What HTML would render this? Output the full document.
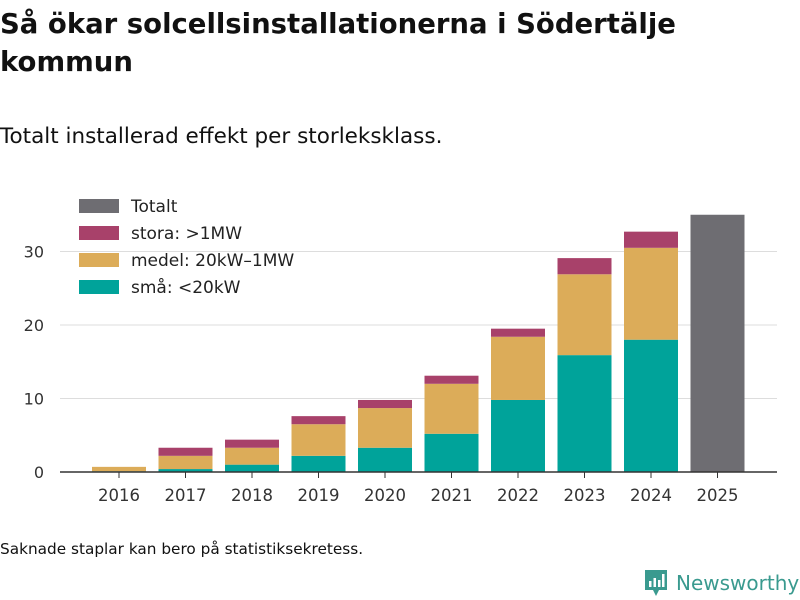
<!DOCTYPE html>
<html><head><meta charset="utf-8"><style>
body{margin:0;width:800px;height:600px;background:#fff;font-family:"DejaVu Sans","Liberation Sans",sans-serif;overflow:hidden;position:relative}
h1{position:absolute;left:0;top:5px;margin:0;font-size:27.5px;line-height:38px;font-weight:bold;color:#111;width:790px}
.sub{position:absolute;left:0;top:124px;font-size:21.5px;color:#111}
.note{position:absolute;left:0;top:540px;font-size:15.3px;color:#111}
.logo{position:absolute;left:644px;top:568px;display:flex;align-items:center;gap:8px;color:#3a9a8f;font-size:20px}
</style></head><body>
<h1>Så ökar solcellsinstallationerna i Södertälje kommun</h1>
<div class="sub">Totalt installerad effekt per storleksklass.</div>
<svg id="chart" width="800" height="600" style="position:absolute;left:0;top:0"></svg>
<div class="note">Saknade staplar kan bero på statistiksekretess.</div>
<div class="logo">
<svg width="24" height="30" viewBox="0 0 24 30"><path d="M1 2h22v20h-8l-3 6-3-6H1z" fill="#3a9a8f"/><rect x="5" y="13" width="2.5" height="6" fill="#fff"/><rect x="9.5" y="10" width="2.5" height="9" fill="#fff"/><rect x="14" y="12" width="2.5" height="7" fill="#fff"/><rect x="18" y="6" width="2.5" height="13" fill="#fff"/></svg>
<span style="font-weight:500">Newsworthy</span></div>
<script>
const years=["2016","2017","2018","2019","2020","2021","2022","2023","2024","2025"];
const sma=[0.1,0.4,1.0,2.2,3.3,5.2,9.8,15.9,18.0,0];
const medel=[0.6,1.8,2.3,4.3,5.4,6.8,8.6,11.0,12.5,0];
const stora=[0,1.1,1.1,1.1,1.1,1.1,1.1,2.2,2.2,0];
const totalt=[0,0,0,0,0,0,0,0,0,35.0];
const yTicks=[0,10,20,30];
const NS="http://www.w3.org/2000/svg";
const svg=document.getElementById('chart');
const x0=60,x1=777,yBase=472,pxPer=7.35,step=66.5,bw=54,firstC=119;
const y=v=>yBase-v*pxPer;
const xc=i=>firstC+i*step;
function mk(t,a){const e=document.createElementNS(NS,t);for(const k in a)e.setAttribute(k,a[k]);svg.appendChild(e);return e;}
yTicks.forEach(t=>{
 if(t>0){const l=mk('line',{x1:x0,x2:x1,y1:y(t),y2:y(t),stroke:'#ddd','stroke-width':1});
 
 }
 const tx=mk('text',{x:44,y:y(t)+6,'text-anchor':'end','font-size':16,fill:'#333','font-family':'DejaVu Sans, sans-serif'});
 tx.textContent=t;
 
 
});
const series=[[sma,'#00a39a','sma'],[medel,'#dcac59','medel'],[stora,'#a8416a','stora'],[totalt,'#6e6d72','totalt']];
years.forEach((yr,i)=>{
 let acc=0;
 series.forEach(([arr,col,nm])=>{
  const v=arr[i]; if(v<=0)return;
  const r=mk('rect',{x:xc(i)-bw/2,y:y(acc+v),width:bw,height:v*pxPer,fill:col});
  
  
  acc+=v;
 });
 const tk=mk('line',{x1:xc(i),x2:xc(i),y1:yBase,y2:yBase+6,stroke:'#333'});
 
 
 const t=mk('text',{x:xc(i),y:yBase+29,'text-anchor':'middle','font-size':16.5,fill:'#333','font-family':'DejaVu Sans, sans-serif'});
 t.textContent=yr;
 
 
});
const ax=mk('line',{x1:x0,x2:x1,y1:yBase,y2:yBase,stroke:'#333','stroke-width':1.5});


const leg=[['Totalt','#6e6d72'],['stora: >1MW','#a8416a'],['medel: 20kW–1MW','#dcac59'],['små: <20kW','#00a39a']];
leg.forEach(([lab,col],i)=>{
 const yy=206+i*27;
 const r=mk('rect',{x:79,y:yy-7,width:40,height:14,fill:col});
 
 
 const t=mk('text',{x:131,y:yy+6,'font-size':17,fill:'#222','font-family':'DejaVu Sans, sans-serif'});
 t.textContent=lab;
 
 
});
</script>
</body></html>
